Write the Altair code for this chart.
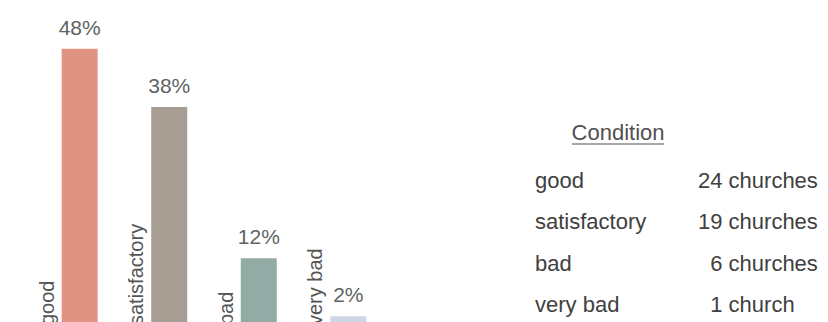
import altair as alt
import pandas as pd

categories = ["good", "satisfactory", "bad", "very bad"]
counts = [24, 19, 6, 1]
percents = [48, 38, 12, 2]
colors = ["#E09283", "#A89D93", "#93ABA5", "#CDD8E4"]
count_labels = ["24 churches", "19 churches", "\u200b\u20076 churches", "\u200b\u20071 church"]
legend_title = "Condition"

FONT = "Liberation Sans"

df = pd.DataFrame({
    "cat": categories,
    "count": counts,
    "pct": percents,
    "pct_label": [f"{p}%" for p in percents],
    "count_label": count_labels,
    "row": list(range(len(categories))),
    "base": [0] * len(categories),
})

x = alt.X("cat:N", sort=categories, axis=None,
          scale=alt.Scale(paddingInner=0, paddingOuter=0.3))
y = alt.Y("pct:Q", axis=None, scale=alt.Scale(domain=[0, 54.7]))
color = alt.Color("cat:N", scale=alt.Scale(domain=categories, range=colors), legend=None)

base = alt.Chart(df)
bars = base.mark_bar(size=36).encode(x=x, y=y, color=color)
pct_text = base.mark_text(font=FONT, fontSize=21, color="#5d6461", dy=-14,
                          baseline="alphabetic").encode(x=x, y=y, text="pct_label:N")
cat_text = base.mark_text(font=FONT, fontSize=20, color="#555555", angle=270,
                          align="left", baseline="alphabetic", dx=3, dy=-26).encode(
    x=x, y=alt.Y("base:Q"), text="cat:N")

left = alt.layer(bars, pct_text, cat_text).properties(width=412, height=320)

ry = alt.Y("row:Q", axis=None, scale=alt.Scale(domain=[-4.337, 3.374], reverse=True, zero=False, nice=False))
name_text = base.mark_text(font=FONT, fontSize=22, align="left", baseline="alphabetic",
                           color="#404040").encode(x=alt.value(0), y=ry, text="cat:N")
count_text = base.mark_text(font=FONT, fontSize=22, align="left", baseline="alphabetic",
                            color="#404040").encode(x=alt.value(163), y=ry, text="count_label:N")
hdr_df = pd.DataFrame({"t": [legend_title]})
header = alt.Chart(hdr_df).mark_text(font=FONT, fontSize=22, align="center", baseline="alphabetic",
                                     color="#505050").encode(x=alt.value(83), y=alt.value(132), text="t:N")
underline = alt.Chart(hdr_df).mark_rule(color="#505050", strokeWidth=1.2).encode(
    x=alt.value(37), x2=alt.value(129), y=alt.value(136))

right = alt.layer(name_text, count_text, header, underline).properties(width=163, height=320)

chart = alt.hconcat(left, right, spacing=115).properties(padding=0).configure_view(stroke=None)

chart.save("out.html", embed_options={"renderer": "svg", "actions": False})
